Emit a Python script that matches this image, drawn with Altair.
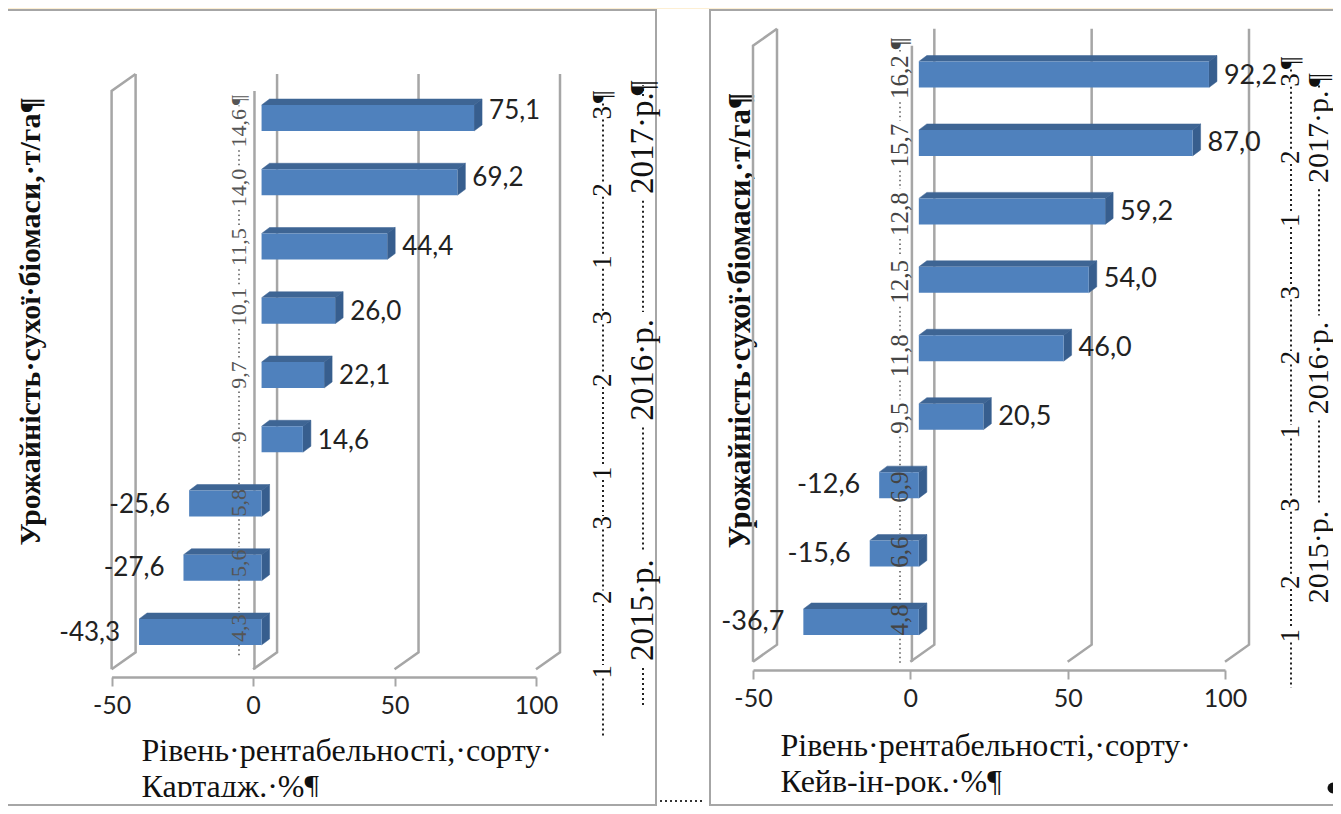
import altair as alt
import pandas as pd

# ---- values (top row first) ----
LEFT_VALUES = [75.1, 69.2, 44.4, 26.0, 22.1, 14.6, -25.6, -27.6, -43.3]
RIGHT_VALUES = [92.2, 87.0, 59.2, 54.0, 46.0, 20.5, -12.6, -15.6, -36.7]
LEFT_YIELDS = ["¶", "14,6", "14,0", "11,5", "10,1", "9,7", "9", "5,8", "5,6", "4,3"]
RIGHT_YIELDS = ["¶", "16,2", "15,7", "12,8", "12,5", "11,8", "9,5", "6,9", "6,6", "4,8"]
VARIANTS = ["¶", "3", "2", "1", "3", "2", "1", "3", "2", "1"]
YEARS = ["¶", "2017·р.", "2016·р.", "2015·р."]
TICKS = [-50, 0, 50, 100]
Y_TITLE = "Урожайність·сухої·біомаси,·т/га¶"
LEFT_X_TITLE = ["Рівень·рентабельності,·сорту·", "Картадж.·%¶"]
RIGHT_X_TITLE = ["Рівень·рентабельності,·сорту·", "Кейв-ін-рок.·%¶"]

# ---- where the hand-set leader labels sit, in row units of each panel ----
LEFT_YIELD_ROWS = [0.72, 1.16, 2.09, 3.01, 3.94, 5.0, 5.96, 6.99, 7.93, 8.94]
LEFT_VARIANT_ROWS = [0.67, 0.92, 2.12, 3.24, 4.11, 5.08, 6.53, 7.30, 8.46, 9.62]
LEFT_YEAR_ROWS = [0.53, 1.39, 4.92, 8.66]
RIGHT_YIELD_ROWS = [0.55, 1.04, 2.04, 3.04, 4.03, 5.11, 6.02, 7.03, 7.98, 8.97]
RIGHT_VARIANT_ROWS = [0.83, 1.08, 2.21, 3.13, 4.19, 5.14, 6.22, 7.29, 8.42, 9.2]
RIGHT_YEAR_ROWS = [1.08, 1.91, 5.29, 8.05]

LEFT_NUDGE = [-7, -4, 0, 1, 1, 2, 1, 0, 1]
RIGHT_NUDGE = [1, 0, 1, -1, 0, 0, 0, 0, 0]

FRONT, TOP, SIDE = "#4F81BD", "#3E6594", "#375E8E"
WALL = "#A6A6A6"
SERIF, SANS = "Liberation Serif", "Lato"


def panel(values, yields, yield_rows, var_rows, year_rows, cfg):
    ux = (cfg["xr"][1] - cfg["xr"][0]) / 150.0      # px per value unit
    uy = (cfg["yr"][1] - cfg["yr"][0]) / 8.0        # px per row
    xs = alt.Scale(domain=[-50, 100], range=cfg["xr"], nice=False, zero=False)
    ys = alt.Scale(domain=[1, 9], range=cfg["yr"], nice=False, zero=False)
    X = alt.X("x:Q", scale=xs, axis=None)
    Y = alt.Y("y:Q", scale=ys, axis=None, stack=None)
    floor, top = cfg["floor"], cfg["top"]
    wdx, wdy = 24 / ux, 17 / uy                     # wall depth
    bdx, bdy = 8 / ux, 6 / uy                       # bar depth
    base = 8.5 / ux
    half = 13 / uy

    # walls and gridlines
    walls = []
    for v in TICKS:
        pts = [(v, floor), (v + wdx, floor - wdy), (v + wdx, top - wdy)]
        walls += [dict(g=f"b{v}", o=i, x=a, y=b) for i, (a, b) in enumerate(pts)]
    side = [(-50, floor), (-50, top), (-50 + wdx, top - wdy)]
    walls += [dict(g="l", o=i, x=a, y=b) for i, (a, b) in enumerate(side)]
    walls += [dict(g="z", o=i, x=0.5, y=b) for i, b in enumerate([floor, top])]
    axis_x = alt.Axis(values=TICKS, orient="bottom", offset=cfg["offset"], grid=False,
                      domainColor=WALL, domainWidth=2.5, tickColor=WALL, tickWidth=2, tickSize=9,
                      labelFont=SANS, labelFontSize=25, labelColor="#222", labelPadding=7,
                      labelFlush=False, labelOverlap=False, labelExpr="'' + datum.value",
                      title=cfg["xtitle"], titleFont=SERIF, titleFontSize=cfg["xfs"],
                      titleFontWeight="normal", titleColor="#111", titleLineHeight=36,
                      titleAlign="left", titleAnchor="start", titleBaseline="top",
                      titleX=cfg["tx"], titleY=cfg["ty"])
    axis_y = alt.Axis(orient="left", domain=False, ticks=False, labels=False, grid=False,
                      title=Y_TITLE, titleFont=SERIF, titleFontSize=cfg["yfs"], titleFontWeight="bold",
                      titleColor="#111", titleAngle=270, titleAlign="center",
                      titleBaseline="middle", titleX=cfg["yx"], titleY=cfg["yy"])
    wall_layer = alt.Chart(pd.DataFrame(walls)).mark_line(color=WALL, strokeWidth=2.5).encode(
        x=alt.X("x:Q", scale=xs, axis=axis_x), y=alt.Y("y:Q", scale=ys, axis=axis_y),
        detail="g:N", order="o:Q")

    # bars: the front face is a rectangle, the top and side faces are closed polygons
    fronts, tops, sides = [], [], []
    for i, v in enumerate(values):
        r = i + 1
        lo, hi = base + min(v, 0), base + max(v, 0)
        yt, yb = r - half, r + half
        fronts.append(dict(x=lo, x2=hi, y=yt, y2=yb))
        for k, (a, b) in enumerate([(lo, yt), (lo + bdx, yt - bdy), (hi + bdx, yt - bdy), (hi, yt)]):
            tops.append(dict(g=r, o=k, x=a, y=b))
        for k, (a, b) in enumerate([(hi, yt), (hi + bdx, yt - bdy), (hi + bdx, yb - bdy), (hi, yb)]):
            sides.append(dict(g=r, o=k, x=a, y=b))
    front_layer = alt.Chart(pd.DataFrame(fronts)).mark_rect(color=FRONT).encode(
        x=X, x2="x2:Q", y=Y, y2="y2:Q")
    top_layer = alt.Chart(pd.DataFrame(tops)).mark_line(fill=TOP, stroke=TOP, strokeWidth=0.5).encode(
        x=X, y=Y, detail="g:N", order="o:Q")
    side_layer = alt.Chart(pd.DataFrame(sides)).mark_line(fill=SIDE, stroke=SIDE, strokeWidth=0.5).encode(
        x=X, y=Y, detail="g:N", order="o:Q")

    # value labels
    lab = pd.DataFrame({
        "x": [base + v for v in values],
        "y": [i + 1 + n / uy for i, n in enumerate(cfg["nudge"])],
        "t": [f"{v:.1f}".replace(".", ",") for v in values],
        "v": values,
    })
    lab_style = dict(font=SANS, fontSize=cfg["lfs"], color="#222", baseline="middle")
    pos = alt.Chart(lab[lab.v > 0]).mark_text(align="left", dx=15, **lab_style).encode(x=X, y=Y, text="t:N")
    neg = alt.Chart(lab[lab.v < 0]).mark_text(align="right", dx=-19, **lab_style).encode(x=X, y=Y, text="t:N")

    # dotted leader columns with rotated text
    def leader(xpx, labels, rows, end, fs, color, font_w, dash, sw, dot_color):
        xv = -50 + (xpx - cfg["xr"][0]) / ux
        d = pd.DataFrame({"x": [xv] * len(labels), "y": rows, "t": labels})
        txt = alt.Chart(d).mark_text(angle=270, align="center", baseline="middle", font=SERIF,
                                     fontSize=fs, color=color, fontWeight=font_w).encode(
            x=X, y=Y, text="t:N")
        hl = [len(t) * fs * 0.25 / uy for t in labels]
        seg = []
        for a in range(len(labels) - 1):
            seg.append(dict(x=xv, y=rows[a] + hl[a], y2=rows[a + 1] - hl[a + 1]))
        if end is not None:
            seg.append(dict(x=xv, y=rows[-1] + hl[-1], y2=end))
        rules = alt.Chart(pd.DataFrame(seg)).mark_rule(
            strokeDash=dash, strokeWidth=sw, color=dot_color).encode(x=X, y=Y, y2="y2:Q")
        return [rules, txt]

    cols = []
    cols += leader(cfg["yield_x"], yields, yield_rows, cfg["yield_end"], cfg["yield_fs"],
                   cfg["yield_c"], "normal", [1.5, 3], 1.5, "#555")
    cols += leader(cfg["var_x"], VARIANTS, var_rows, cfg["var_end"], 27, "#111", "normal", [2, 3], 2, "#222")
    cols += leader(cfg["year_x"], YEARS, year_rows, cfg["year_end"], cfg["year_fs"], "#111", "normal", [2, 3], 2, "#222")

    return [wall_layer, top_layer, side_layer, front_layer] + cols + [pos, neg]


LEFT = dict(xr=[103.6, 528.0], yr=[110.0, 624.0], floor=9.58, top=0.58, offset=-129,
            xtitle=LEFT_X_TITLE, xfs=32, tx=133, ty=58, yx=22, yy=313, yfs=30, lfs=26, nudge=LEFT_NUDGE,
            yield_x=231, yield_end=9.40, yield_fs=22, yield_c="#555",
            var_x=595, var_end=10.65, year_x=635, year_end=10.14, year_fs=33)
RIGHT = dict(xr=[745.0, 1217.0], yr=[66.5, 614.0], floor=9.58, top=0.58, offset=-136,
             xtitle=RIGHT_X_TITLE, xfs=32, tx=772, ty=60, yx=732, yy=312, yfs=30.5, lfs=27, nudge=RIGHT_NUDGE,
             yield_x=892, yield_end=9.63, yield_fs=25, yield_c="#444",
             var_x=1283, var_end=9.96, year_x=1311, year_end=None, year_fs=30)

one = pd.DataFrame({"a": [0]})


def box(x, x2, y, y2, **kw):
    return alt.Chart(one).mark_rect(**kw).encode(
        x=alt.value(x), x2=alt.value(x2), y=alt.value(y), y2=alt.value(y2))


strip = box(0, 1325, 0, 1, color="#FDEFD3")
frame_l = box(-3, 648, 2, 797, fillOpacity=0, stroke=WALL, strokeWidth=2)
frame_r = box(702, 1330, 2, 797, fillOpacity=0, stroke=WALL, strokeWidth=2)
mask_l = box(10, 640, 789, 796, color="white")
mask_r = box(712, 1320, 787, 796, color="white")
dots = alt.Chart(one).mark_rule(strokeDash=[2, 3], strokeWidth=2, color="#333").encode(
    x=alt.value(652), x2=alt.value(697), y=alt.value(793))
bullet = alt.Chart(one).mark_circle(size=120, color="#111", opacity=1).encode(
    x=alt.value(1325), y=alt.value(780))

p1 = panel(LEFT_VALUES, LEFT_YIELDS, LEFT_YIELD_ROWS, LEFT_VARIANT_ROWS, LEFT_YEAR_ROWS, LEFT)
p2 = panel(RIGHT_VALUES, RIGHT_YIELDS, RIGHT_YIELD_ROWS, RIGHT_VARIANT_ROWS, RIGHT_YEAR_ROWS, RIGHT)

chart = alt.layer(strip, frame_l, frame_r, *p1, *p2, mask_l, mask_r, dots, bullet).resolve_scale(
    x="independent", y="independent"
).properties(
    width=1325, height=798,
    padding=0,
    autosize=alt.AutoSizeParams(type="none"),
    background="white",
).configure_view(stroke=None)

chart.save("out.html", embed_options={"renderer": "svg", "actions": False})
